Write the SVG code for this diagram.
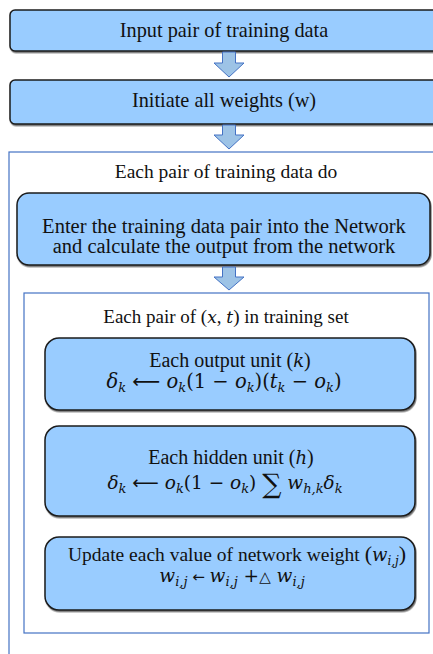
<svg xmlns="http://www.w3.org/2000/svg" width="433" height="654" viewBox="0 0 433 654">
<style>
.box{fill:#99CCFF;stroke:#1a1a1a;stroke-width:1.5;filter:url(#sh)}
.cont{fill:none;stroke:#4472C4;stroke-width:1.2}
.arr{fill:#9DC3E6;stroke:#4472C4;stroke-width:1}
.t{font-family:"Liberation Serif","Times New Roman",serif;fill:#111;text-anchor:middle}
.m{font-family:"DejaVu Serif","Liberation Serif",serif;font-style:italic;fill:#111;text-anchor:middle;font-size:18.5px}
.s{font-size:13px}
.n{font-style:normal}
.sym{font-family:"DejaVu Sans",sans-serif;font-style:normal}
</style>
<defs>
<filter id="sh" x="-5%" y="-10%" width="110%" height="130%">
<feDropShadow dx="0.8" dy="1.5" stdDeviation="0.7" flood-color="#000" flood-opacity="0.55"/>
</filter>
</defs>
<rect width="433" height="654" fill="#fff"/>
<g id="outer-loop">
<rect class="cont" x="9" y="152" width="500" height="600"/>
<text class="t" x="226" y="178" font-size="19.5">Each pair of training data do</text>
</g>
<g id="inner-loop">
<rect class="cont" x="24" y="293" width="405" height="340"/>
<text class="t" x="226" y="323" font-size="19">Each pair of (<tspan font-family="DejaVu Serif" font-style="italic" font-size="17">x</tspan>, <tspan font-family="DejaVu Serif" font-style="italic" font-size="17">t</tspan>) in training set</text>
</g>
<g id="input">
<rect class="box" x="10" y="10" width="440" height="41" rx="5"/>
<text class="t" x="224" y="37" font-size="20.3">Input pair of training data</text>
</g>
<g id="init">
<rect class="box" x="10" y="80" width="440" height="44" rx="5"/>
<text class="t" x="224" y="107" font-size="20.3">Initiate all weights (w)</text>
</g>
<g id="enter">
<rect class="box" x="17" y="193" width="413" height="72" rx="12"/>
<text class="t" x="224" y="233" font-size="20.5">Enter the training data pair into the Network</text>
<text class="t" x="224" y="253" font-size="20.5">and calculate the output from the network</text>
</g>
<g id="output-unit">
<rect class="box" x="45" y="338" width="370" height="72" rx="14"/>
<text class="t" x="230" y="367" font-size="20">Each output unit (<tspan font-family="DejaVu Serif" font-style="italic" font-size="18">k</tspan>)</text>
<text class="m" x="224" y="388" style="font-size:19.5px">δ<tspan class="s" dy="4">k</tspan><tspan dy="-4" class="sym"> ⟵ </tspan>o<tspan class="s" dy="4">k</tspan><tspan dy="-4" class="n">(1 − </tspan>o<tspan class="s" dy="4">k</tspan><tspan dy="-4" class="n">)(</tspan>t<tspan class="s" dy="4">k</tspan><tspan dy="-4" class="n"> − </tspan>o<tspan class="s" dy="4">k</tspan><tspan dy="-4" class="n">)</tspan></text>
</g>
<g id="hidden-unit">
<rect class="box" x="45" y="426" width="370" height="90" rx="14"/>
<text class="t" x="231" y="464" font-size="20">Each hidden unit (<tspan font-family="DejaVu Serif" font-style="italic" font-size="18">h</tspan>)</text>
<text class="m" x="225" y="489">δ<tspan class="s" dy="4">k</tspan><tspan dy="-4" class="sym"> ⟵ </tspan>o<tspan class="s" dy="4">k</tspan><tspan dy="-4" class="n">(1 − </tspan>o<tspan class="s" dy="4">k</tspan><tspan dy="-4" class="n">) </tspan><tspan class="n" style="font-size:27px" dy="4">∑</tspan><tspan dy="-4"> w</tspan><tspan class="s" dy="4">h,k</tspan><tspan dy="-4">δ</tspan><tspan class="s" dy="4">k</tspan></text>
</g>
<g id="update">
<rect class="box" x="45" y="537" width="370" height="73" rx="14"/>
<text class="t" x="237" y="561" font-size="19.5">Update each value of network weight <tspan font-size="22">(</tspan><tspan font-family="DejaVu Serif" font-style="italic" font-size="18">w</tspan><tspan font-family="DejaVu Serif" font-style="italic" font-size="12" dy="4">i,j</tspan><tspan dy="-4" font-size="22">)</tspan></text>
<text class="m" x="232" y="582">w<tspan class="s" dy="4">i,j</tspan><tspan dy="-4" class="sym" style="font-size:15px">  ← </tspan>w<tspan class="s" dy="4">i,j</tspan><tspan dy="-4" class="n"> +</tspan><tspan class="sym" style="font-size:15px">△</tspan> w<tspan class="s" dy="4">i,j</tspan></text>
</g>
<g id="connectors">
<path class="arr" d="M222.5,52 H235.5 V63 H244 L229,77 L214,63 H222.5 Z"/>
<path class="arr" d="M222.5,125 H235.5 V135 H244 L229,149 L214,135 H222.5 Z"/>
<path class="arr" d="M222.5,267 H235.5 V277 H244 L229,290 L214,277 H222.5 Z"/>
</g>
</svg>
